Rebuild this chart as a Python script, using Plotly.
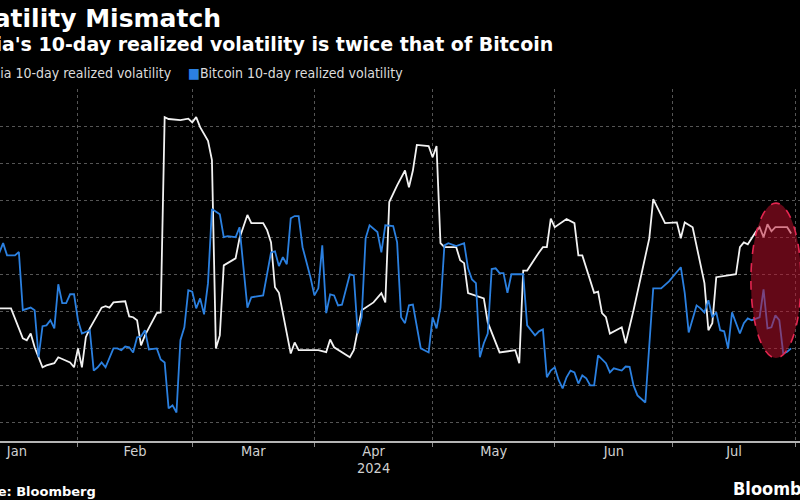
import plotly.graph_objects as go

# ---------------- data ----------------
nvda_dates = [
    "2024-01-12", "2024-01-15", "2024-01-18", "2024-01-19", "2024-01-20", "2024-01-21",
    "2024-01-23", "2024-01-24", "2024-01-26", "2024-01-27", "2024-01-30", "2024-01-31",
    "2024-02-01", "2024-02-02", "2024-02-03", "2024-02-04", "2024-02-07", "2024-02-08",
    "2024-02-09", "2024-02-10", "2024-02-13", "2024-02-14", "2024-02-15", "2024-02-16",
    "2024-02-17", "2024-02-18", "2024-02-21", "2024-02-22", "2024-02-23", "2024-02-24",
    "2024-02-27", "2024-02-29", "2024-03-01", "2024-03-02", "2024-03-03", "2024-03-05",
    "2024-03-06", "2024-03-07", "2024-03-08", "2024-03-09", "2024-03-12", "2024-03-13",
    "2024-03-15", "2024-03-16", "2024-03-19", "2024-03-20", "2024-03-21", "2024-03-22",
    "2024-03-23", "2024-03-26", "2024-03-27", "2024-03-28", "2024-04-02", "2024-04-04",
    "2024-04-05", "2024-04-06", "2024-04-10", "2024-04-11", "2024-04-13", "2024-04-16",
    "2024-04-18", "2024-04-19", "2024-04-20", "2024-04-22", "2024-04-24", "2024-04-25",
    "2024-04-26", "2024-04-27", "2024-04-30", "2024-05-01", "2024-05-02", "2024-05-03",
    "2024-05-04", "2024-05-07", "2024-05-08", "2024-05-09", "2024-05-10", "2024-05-11",
    "2024-05-14", "2024-05-15", "2024-05-16", "2024-05-18", "2024-05-22", "2024-05-23",
    "2024-05-24", "2024-05-25", "2024-05-28", "2024-05-29", "2024-05-30", "2024-05-31",
    "2024-06-01", "2024-06-04", "2024-06-06", "2024-06-07", "2024-06-08", "2024-06-11",
    "2024-06-12", "2024-06-13", "2024-06-14", "2024-06-15", "2024-06-18", "2024-06-19",
    "2024-06-21", "2024-06-25", "2024-06-26", "2024-06-29", "2024-07-02", "2024-07-03",
    "2024-07-04", "2024-07-06", "2024-07-09", "2024-07-10", "2024-07-11", "2024-07-12",
    "2024-07-17", "2024-07-18", "2024-07-19", "2024-07-20", "2024-07-22", "2024-07-23",
    "2024-07-24", "2024-07-25", "2024-07-26", "2024-07-27", "2024-07-30", "2024-07-31",
]
nvda_vol = [
    40.8, 40.8, 32.7, 32.2, 34.0, 30.3,
    24.9, 25.4, 26.0, 27.6, 26.2, 24.9,
    30.0, 24.9, 33.0, 35.4, 41.0, 41.4,
    41.0, 42.4, 42.7, 38.6, 38.4, 37.6,
    30.8, 33.5, 39.5, 39.7, 92.4, 91.9,
    91.6, 92.0, 91.0, 92.4, 89.7, 86.0,
    80.8, 30.0, 33.5, 52.4, 54.3, 59.7,
    66.0, 63.8, 63.8, 61.9, 58.6, 46.5,
    45.0, 28.6, 31.6, 29.5, 29.5, 29.0,
    32.4, 30.3, 27.6, 29.5, 40.3, 42.4,
    44.9, 42.4, 69.5, 74.0, 78.0, 73.5,
    78.0, 84.9, 84.6, 81.6, 84.6, 58.4,
    57.3, 57.3, 53.8, 53.0, 44.9, 44.6,
    43.5, 37.0, 34.3, 28.9, 29.5, 26.0,
    51.0, 51.0, 55.9, 57.3, 57.3, 65.0,
    62.7, 64.9, 63.8, 55.1, 55.1, 45.0,
    45.3, 39.5, 38.4, 34.0, 35.7, 31.4,
    40.3, 59.7, 70.3, 63.8, 64.0, 59.7,
    64.0, 62.7, 47.6, 34.9, 36.8, 49.2,
    50.0, 57.3, 58.6, 58.1, 61.4, 62.7,
    60.0, 63.5, 61.6, 62.7, 62.7, 61.0,
]

btc_dates = [
    "2024-01-12", "2024-01-13", "2024-01-14", "2024-01-16", "2024-01-17", "2024-01-18",
    "2024-01-20", "2024-01-21", "2024-01-22", "2024-01-23", "2024-01-24", "2024-01-25",
    "2024-01-26", "2024-01-27", "2024-01-28", "2024-01-29", "2024-01-30", "2024-01-31",
    "2024-02-01", "2024-02-02", "2024-02-04", "2024-02-05", "2024-02-06", "2024-02-07",
    "2024-02-08", "2024-02-10", "2024-02-11", "2024-02-12", "2024-02-13", "2024-02-14",
    "2024-02-15", "2024-02-16", "2024-02-17", "2024-02-18", "2024-02-19", "2024-02-21",
    "2024-02-22", "2024-02-23", "2024-02-24", "2024-02-25", "2024-02-26", "2024-02-27",
    "2024-02-28", "2024-02-29", "2024-03-01", "2024-03-02", "2024-03-03", "2024-03-04",
    "2024-03-05", "2024-03-06", "2024-03-08", "2024-03-09", "2024-03-10", "2024-03-12",
    "2024-03-13", "2024-03-15", "2024-03-16", "2024-03-19", "2024-03-21", "2024-03-22",
    "2024-03-23", "2024-03-24", "2024-03-25", "2024-03-26", "2024-03-27", "2024-03-28",
    "2024-03-29", "2024-03-31", "2024-04-01", "2024-04-02", "2024-04-03", "2024-04-04",
    "2024-04-05", "2024-04-06", "2024-04-07", "2024-04-08", "2024-04-10", "2024-04-11",
    "2024-04-12", "2024-04-13", "2024-04-14", "2024-04-15", "2024-04-17", "2024-04-18",
    "2024-04-19", "2024-04-21", "2024-04-22", "2024-04-23", "2024-04-24", "2024-04-25",
    "2024-04-26", "2024-04-28", "2024-04-30", "2024-05-01", "2024-05-02", "2024-05-03",
    "2024-05-04", "2024-05-05", "2024-05-07", "2024-05-09", "2024-05-10", "2024-05-11",
    "2024-05-12", "2024-05-13", "2024-05-14", "2024-05-15", "2024-05-16", "2024-05-17",
    "2024-05-18", "2024-05-19", "2024-05-20", "2024-05-21", "2024-05-24", "2024-05-25",
    "2024-05-27", "2024-05-28", "2024-05-29", "2024-05-30", "2024-05-31", "2024-06-01",
    "2024-06-02", "2024-06-03", "2024-06-04", "2024-06-05", "2024-06-06", "2024-06-07",
    "2024-06-08", "2024-06-09", "2024-06-10", "2024-06-11", "2024-06-12", "2024-06-14",
    "2024-06-15", "2024-06-16", "2024-06-18", "2024-06-19", "2024-06-20", "2024-06-21",
    "2024-06-22", "2024-06-24", "2024-06-26", "2024-06-28", "2024-06-30", "2024-07-03",
    "2024-07-04", "2024-07-05", "2024-07-07", "2024-07-08", "2024-07-09", "2024-07-10",
    "2024-07-11", "2024-07-12", "2024-07-13", "2024-07-14", "2024-07-15", "2024-07-16",
    "2024-07-18", "2024-07-19", "2024-07-20", "2024-07-21", "2024-07-23", "2024-07-24",
    "2024-07-25", "2024-07-26", "2024-07-27", "2024-07-28", "2024-07-29", "2024-07-30",
    "2024-07-31",
]
btc_vol = [
    55.7, 58.4, 55.1, 55.1, 56.0, 40.3,
    41.0, 40.3, 27.6, 36.0, 36.2, 37.6,
    35.4, 47.3, 42.2, 42.2, 44.6, 44.6,
    37.6, 34.0, 34.9, 24.0, 24.9, 26.2,
    24.9, 30.0, 30.0, 29.5, 30.5, 30.3,
    28.9, 33.0, 33.2, 34.9, 29.7, 30.0,
    27.0, 26.2, 13.8, 14.6, 12.7, 32.2,
    35.7, 45.7, 45.3, 40.8, 43.5, 39.2,
    47.6, 67.6, 66.2, 60.0, 60.3, 60.0,
    62.7, 41.0, 43.8, 44.3, 55.9, 56.2,
    52.2, 54.6, 52.7, 65.1, 65.7, 65.7,
    57.3, 49.2, 44.3, 46.2, 57.8, 39.5,
    44.6, 44.3, 41.6, 41.8, 50.0, 49.7,
    34.0, 38.4, 59.7, 63.2, 61.4, 55.9,
    63.2, 63.0, 58.6, 38.4, 36.8, 41.6,
    41.8, 30.0, 28.9, 38.4, 35.4, 41.0,
    57.8, 58.4, 57.6, 58.4, 51.6, 48.6,
    47.6, 27.6, 31.4, 34.0, 51.4, 51.6,
    50.3, 50.3, 45.0, 50.0, 50.0, 36.2,
    33.5, 34.6, 35.1, 22.2, 24.0, 24.9,
    21.4, 19.2, 22.2, 24.0, 23.5, 20.5,
    22.7, 21.9, 20.0, 20.0, 28.1, 26.0,
    23.5, 24.6, 24.0, 25.1, 25.0, 20.0,
    17.3, 15.4, 46.2, 46.2, 48.1, 51.9,
    44.9, 34.3, 41.6, 40.8, 39.7, 43.0,
    38.4, 39.7, 34.9, 34.6, 30.0, 39.7,
    34.0, 36.8, 38.1, 37.6, 38.4, 45.9,
    35.4, 35.7, 38.9, 37.6, 28.6, 29.1,
    30.0,
]

nvda_name = "Nvidia 10-day realized volatility"
btc_name = "Bitcoin 10-day realized volatility"
title_text = "Volatility Mismatch"
subtitle_text = "Nvidia's 10-day realized volatility is twice that of Bitcoin"
source_text = "Source: Bloomberg"
year_label = "2024"

# ---------------- styling ----------------
W, H = 800, 500
M_T, M_B = 89, 59
PLOT_H = H - M_T - M_B
WHITE = "#f2f2f2"
BLUE = "#2b80e0"
BOLD = "DejaVu Sans"
COND = "DejaVu Sans Condensed, Liberation Sans Narrow, DejaVu Sans"
GRID = "#555555"


def px_x(px):
    return px / W


def px_y(py):
    return (H - M_B - py) / PLOT_H


fig = go.Figure()
fig.add_trace(go.Scatter(x=nvda_dates, y=nvda_vol, mode="lines", name=nvda_name,
                         line=dict(color=WHITE, width=1.8)))
fig.add_trace(go.Scatter(x=btc_dates, y=btc_vol, mode="lines", name=btc_name,
                         line=dict(color=BLUE, width=1.8)))

fig.add_shape(type="circle", xref="x", yref="y", layer="above",
              x0="2024-07-20 19:00", x1="2024-08-02 12:00", y0=27.4, y1=69.2,
              fillcolor="rgba(190,15,45,0.52)",
              line=dict(color="#e52650", width=1.6, dash="dash"))

annotations = [
    dict(text=f"<b>{title_text}</b>", x=px_x(223), y=px_y(18), xanchor="right", yanchor="middle",
         font=dict(family=BOLD, size=25, color="#ffffff")),
    dict(text=f"<b>{subtitle_text}</b>", x=px_x(555), y=px_y(44), xanchor="right", yanchor="middle",
         font=dict(family=BOLD, size=19, color="#ffffff")),
    dict(text=f"<span style='color:{WHITE}'>■</span> {nvda_name}", x=px_x(174), y=px_y(73),
         xanchor="right", yanchor="middle", font=dict(family=COND, size=14, color="#dcdcdc")),
    dict(text=f"<span style='color:{BLUE}'>■</span>{btc_name}", x=px_x(186), y=px_y(73),
         xanchor="left", yanchor="middle", font=dict(family=COND, size=14, color="#dcdcdc")),
    dict(text=year_label, x="2024-04-16", xref="x", y=px_y(468), xanchor="center", yanchor="middle",
         font=dict(family=COND, size=14.5, color="#d0d0d0")),
    dict(text=f"<b>{source_text}</b>", x=px_x(98), y=px_y(491), xanchor="right", yanchor="middle",
         font=dict(family=BOLD, size=13, color="#ffffff")),
    dict(text="<b>Bloomberg</b>", x=px_x(731), y=px_y(489), xanchor="left", yanchor="middle",
         font=dict(family=COND, size=18, color="#ffffff")),
]
for a in annotations:
    a.setdefault("xref", "paper")
    a["yref"] = "paper"
    a["showarrow"] = False

fig.update_layout(
    width=W, height=H,
    margin=dict(l=0, r=0, t=M_T, b=M_B, pad=0),
    paper_bgcolor="#000000", plot_bgcolor="#000000",
    showlegend=False,
    annotations=annotations,
    xaxis=dict(
        type="date",
        range=["2024-01-12 05:00", "2024-08-02 06:00"],
        dtick="M1", tick0="2024-01-01", tickformat="%b", ticklabelmode="period",
        showgrid=True, gridcolor=GRID, griddash="dot", gridwidth=1,
        showline=True, linecolor="#b4b4b4", linewidth=2,
        ticks="outside", ticklen=4, tickcolor="#8a8a8a",
        ticklabelstandoff=-8,
        tickfont=dict(family=COND, size=14.5, color="#d0d0d0"),
        zeroline=False,
    ),
    yaxis=dict(
        range=[5, 100], dtick=10, tick0=0,
        showgrid=True, gridcolor=GRID, griddash="dot", gridwidth=1,
        showticklabels=False, zeroline=False, showline=False,
    ),
)

fig.write_html("out.html")
